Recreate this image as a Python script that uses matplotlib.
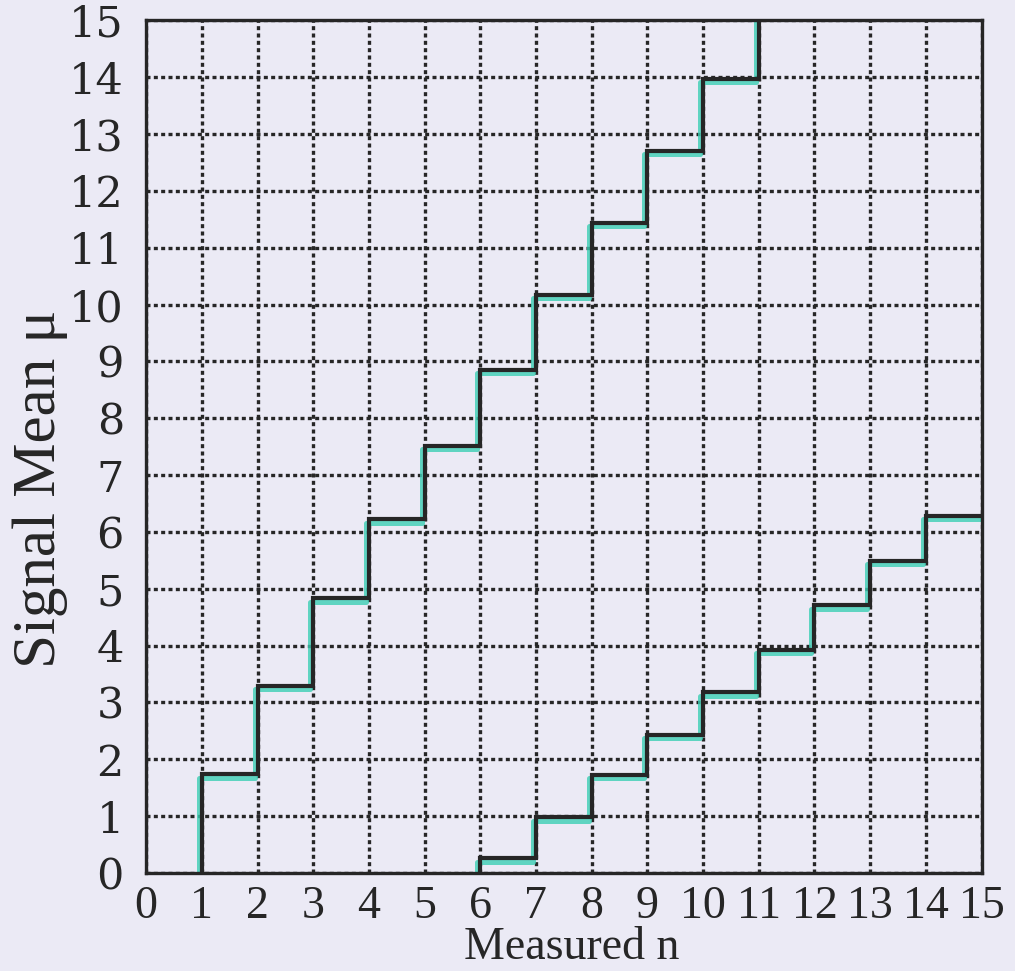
import numpy as np
import matplotlib
matplotlib.use("Agg")
import matplotlib.pyplot as plt
from matplotlib.transforms import offset_copy
from matplotlib import font_manager as fm

# ---- data ----
ticks = list(range(0, 16))
tick_labels = [str(t) for t in ticks]

# upper boundary: value of mu on each bin [n, n+1)
upper_n = [1, 2, 3, 4, 5, 6, 7, 8, 9, 10, 11]
upper_mu = [1.74, 3.29, 4.83, 6.22, 7.52, 8.85, 10.17, 11.44, 12.71, 13.97, 15.24]

# lower boundary
lower_n = [6, 7, 8, 9, 10, 11, 12, 13, 14]
lower_mu = [0.26, 0.98, 1.73, 2.43, 3.18, 3.93, 4.71, 5.49, 6.28]

x_label = "Measured n"
y_label = "Signal Mean \u03bc"


def pick_font(cands):
    for c in cands:
        try:
            fm.findfont(fm.FontProperties(family=c), fallback_to_default=False)
            return c
        except Exception:
            continue
    return "serif"


times = pick_font(["Liberation Serif", "Times New Roman", "Nimbus Roman",
                   "Nimbus Roman No9 L", "Tinos", "DejaVu Serif"])
wide = pick_font(["DejaVu Serif", "Liberation Serif"])

# ---- styling ----
bg = "#ebeaf5"
ink = "#262626"
cyan = "#3ccfb4"

fig = plt.figure(figsize=(10.15, 9.71), dpi=100, facecolor=bg)
ax = fig.add_axes([0.144, 0.101, 0.823, 0.878], facecolor=bg)

ax.set_xlim(0, 15)
ax.set_ylim(0, 15)

ax.set_xticks(ticks)
ax.set_yticks(ticks)
ax.set_xticklabels(tick_labels, family=[times, "DejaVu Serif"], fontsize=33)
ax.set_yticklabels(tick_labels, family=[wide], fontsize=31)
ax.tick_params(axis="both", length=0, colors=ink)
ax.tick_params(axis="x", pad=9)
ax.tick_params(axis="y", pad=16)

ax.grid(True, color=ink, linestyle=(0, (1.2, 1.0)), linewidth=2.4, zorder=1)
ax.set_axisbelow(True)

for sp in ax.spines.values():
    sp.set_color(ink)
    sp.set_linewidth(2.4)
    sp.set_zorder(5)

# step series built from the data
ux = np.r_[upper_n[0], upper_n, upper_n[-1] + 1]
uy = np.r_[0, upper_mu, upper_mu[-1]]
lx = np.r_[lower_n[0], lower_n, lower_n[-1] + 1]
ly = np.r_[0, lower_mu, lower_mu[-1]]

shift = offset_copy(ax.transData, fig=fig, x=-3.0, y=-3.5, units="dots")
for xs, ys in ((ux, uy), (lx, ly)):
    ax.step(xs, ys, where="post", color=cyan, linewidth=3.6, alpha=0.8,
            transform=shift, zorder=3, solid_joinstyle="round")
    ax.step(xs, ys, where="post", color=ink, linewidth=3.0, zorder=4,
            solid_joinstyle="miter")

ax.set_xlabel(x_label, family=[times, "DejaVu Serif"], fontsize=33, color=ink,
              va="baseline")
ax.set_ylabel(y_label, family=[times, "DejaVu Serif"], fontsize=44, color=ink)
ax.xaxis.set_label_coords(0.51, -0.101)
ax.yaxis.set_label_coords(-0.094, 0.45)

fig.savefig("out.png", dpi=100, facecolor=bg)
